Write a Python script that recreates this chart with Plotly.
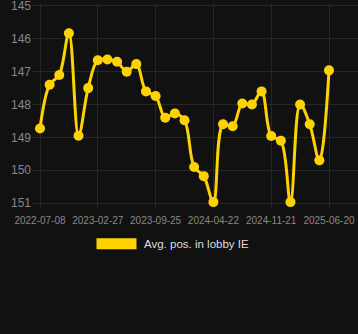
import plotly.graph_objects as go

dates = [
    "2022-07-08", "2022-08-16", "2022-09-24", "2022-11-01", "2022-12-10", "2023-01-18",
    "2023-02-27", "2023-04-03", "2023-05-08", "2023-06-12", "2023-07-17", "2023-08-21",
    "2023-09-25", "2023-10-30", "2023-12-04", "2024-01-08", "2024-02-12", "2024-03-18",
    "2024-04-22", "2024-05-27", "2024-07-01", "2024-08-05", "2024-09-09", "2024-10-14",
    "2024-11-21", "2024-12-26", "2025-01-30", "2025-03-06", "2025-04-10", "2025-05-15",
    "2025-06-20",
]
positions = [
    148.73, 147.4, 147.1, 145.83, 148.95, 147.5,
    146.65, 146.63, 146.7, 147.0, 146.77, 147.6,
    147.74, 148.4, 148.27, 148.48, 149.9, 150.18,
    150.97, 148.6, 148.66, 147.97, 148.0, 147.6,
    148.96, 149.1, 150.97, 148.0, 148.6, 149.7,
    146.96,
]
tick_labels = ["2022-07-08", "2023-02-27", "2023-09-25", "2024-04-22", "2024-11-21", "2025-06-20"]
y_ticks = [145, 146, 147, 148, 149, 150, 151]
series_name = "Avg. pos. in lobby IE"

W, H = 358, 334
L, R, T, B = 32, 0, 4, 126
plot_w = W - L - R
plot_h = H - T - B
px_per = (329 - 40) / 30.0
x0 = -(40 - L) / px_per
x1 = x0 + plot_w / px_per

gold = "#FFD200"

fig = go.Figure()
fig.add_trace(go.Scatter(
    x=list(range(len(dates))), y=positions, mode="lines+markers",
    name=series_name,
    line=dict(color=gold, width=3, shape="spline", smoothing=1.0),
    marker=dict(color=gold, size=10),
    showlegend=False,
    hovertext=dates,
))

fig.update_layout(
    width=W, height=H,
    margin=dict(l=L, r=R, t=T, b=B, pad=0),
    paper_bgcolor="#111111", plot_bgcolor="#111111",
    font=dict(family="Arial, Liberation Sans, sans-serif", color="#888888"),
    xaxis=dict(
        range=[x0, x1],
        tickmode="array",
        tickvals=[dates.index(t) for t in tick_labels],
        ticktext=tick_labels,
        tickfont=dict(size=10, color="#888888"),
        ticks="outside", ticklen=3, tickcolor="#1c1c1c",
        ticklabeloverflow="allow",
        showgrid=True, gridcolor="#262626", gridwidth=1,
        zeroline=False, showline=False,
    ),
    yaxis=dict(
        range=[151.15, 144.94],
        tickvals=y_ticks,
        tickfont=dict(size=12, color="#888888"),
        ticklabeloverflow="allow",
        showgrid=True, gridcolor="#262626", gridwidth=1,
        zeroline=False, showline=False, ticks="",
        ticksuffix=" ",
    ),
)

# legend drawn as a swatch + text
fig.add_shape(type="rect", xref="paper", yref="paper",
              x0=(96.5 - L) / plot_w, x1=(136.5 - L) / plot_w,
              y0=(H - B - 249.3) / plot_h, y1=(H - B - 238.3) / plot_h,
              fillcolor=gold, line=dict(width=0))
fig.add_annotation(xref="paper", yref="paper",
                   x=(142 - L) / plot_w, y=(H - B - 244) / plot_h,
                   xanchor="left", yanchor="middle", showarrow=False,
                   text=series_name, font=dict(size=11.5, color="#dddddd"))

fig.write_html("out.html")
